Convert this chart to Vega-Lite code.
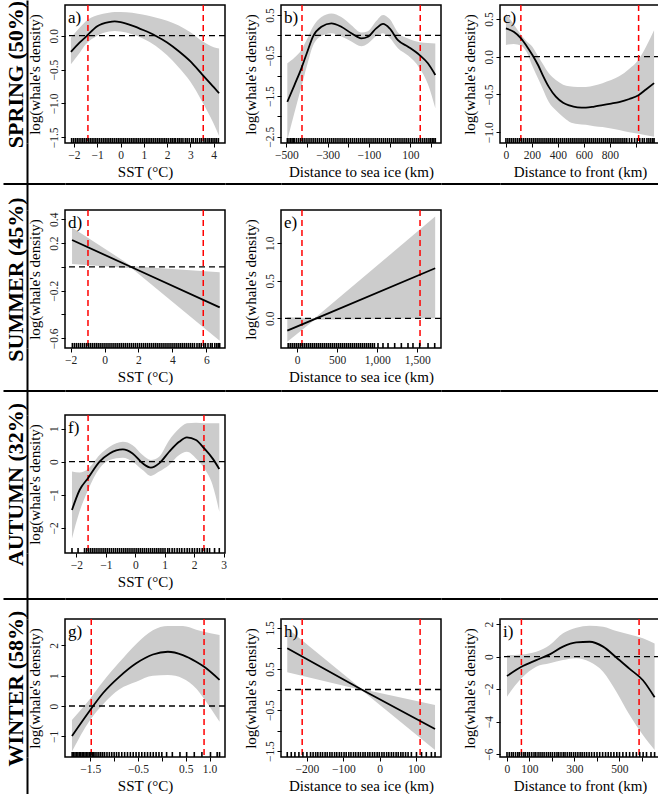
{
"$schema": "https://vega.github.io/schema/vega-lite/v6.json",
"padding": 0,
"bounds": "flush",
"align": "each",
"spacing": {"row": 0, "column": 0},
"columns": 6,
"config": {
  "font": "Liberation Serif",
  "view": {"stroke": "black", "strokeWidth": 1.5},
  "axis": {"grid": false, "domain": false, "ticks": true, "tickColor": "black", "tickSize": 4, "tickWidth": 1, "tickCount": 20, "labelFont": "Liberation Serif", "labelFontSize": 11.5, "labelColor": "#222", "labelFlush": false, "labelOverlap": false, "titleFont": "Liberation Serif", "titleFontSize": 15, "titleFontWeight": "normal", "titleColor": "black"},
  "axisX": {"labelPadding": 2, "titlePadding": 4, "labelOverlap": false},
  "axisY": {"labelAngle": 270, "labelAlign": "center", "labelBaseline": "alphabetic", "labelPadding": 4, "titlePadding": 9, "titleBaseline": "alphabetic", "titleAngle": 270, "labelOverlap": false}
},
"datasets": {
  "fit_a": [
    {"x":-2.13,"y":-0.24,"lo":-0.42,"hi":-0.03},{"x":-1.75,"y":-0.10,"lo":-0.25,"hi":0.12},{"x":-1.5,"y":-0.02,"lo":-0.13,"hi":0.21},{"x":-1.0,"y":0.14,"lo":0.0,"hi":0.3},{"x":-0.5,"y":0.2,"lo":0.06,"hi":0.34},{"x":-0.25,"y":0.21,"lo":0.07,"hi":0.35},{"x":0.0,"y":0.2,"lo":0.06,"hi":0.35},{"x":0.5,"y":0.15,"lo":0.02,"hi":0.34},{"x":1.0,"y":0.08,"lo":-0.05,"hi":0.31},{"x":1.5,"y":0.0,"lo":-0.15,"hi":0.27},{"x":2.0,"y":-0.1,"lo":-0.29,"hi":0.22},{"x":2.5,"y":-0.23,"lo":-0.47,"hi":0.15},{"x":3.0,"y":-0.38,"lo":-0.68,"hi":0.05},{"x":3.5,"y":-0.57,"lo":-0.97,"hi":-0.08},{"x":4.0,"y":-0.76,"lo":-1.3,"hi":-0.17},{"x":4.23,"y":-0.85,"lo":-1.48,"hi":-0.19}
  ],
  "fit_b": [
    {"x":-495,"y":-1.64,"lo":-2.58,"hi":-0.69},{"x":-460,"y":-1.22,"lo":-1.9,"hi":-0.55},{"x":-427,"y":-0.815,"lo":-1.27,"hi":-0.36},{"x":-400,"y":-0.43,"lo":-0.75,"hi":-0.1},{"x":-371,"y":-0.03,"lo":-0.26,"hi":0.21},{"x":-330,"y":0.21,"lo":-0.02,"hi":0.45},{"x":-282,"y":0.295,"lo":0.05,"hi":0.54},{"x":-234,"y":0.21,"lo":-0.03,"hi":0.45},{"x":-185,"y":0.05,"lo":-0.15,"hi":0.25},{"x":-137,"y":-0.075,"lo":-0.27,"hi":0.07},{"x":-105,"y":-0.035,"lo":-0.2,"hi":0.1},{"x":-65,"y":0.17,"lo":-0.02,"hi":0.35},{"x":-32,"y":0.28,"lo":0.05,"hi":0.5},{"x":0,"y":0.17,"lo":-0.06,"hi":0.4},{"x":40,"y":-0.12,"lo":-0.32,"hi":0.07},{"x":89,"y":-0.28,"lo":-0.5,"hi":-0.08},{"x":145,"y":-0.49,"lo":-0.81,"hi":-0.17},{"x":185,"y":-0.69,"lo":-1.2,"hi":-0.19},{"x":221,"y":-0.98,"lo":-1.8,"hi":-0.2}
  ],
  "fit_c": [
    {"x":0,"y":0.375,"lo":0.155,"hi":0.574},{"x":60,"y":0.33,"lo":0.17,"hi":0.43},{"x":116,"y":0.243,"lo":0.15,"hi":0.29},{"x":160,"y":0.14,"lo":0.06,"hi":0.2},{"x":205,"y":0.02,"lo":-0.13,"hi":0.13},{"x":250,"y":-0.12,"lo":-0.3,"hi":0.0},{"x":282,"y":-0.24,"lo":-0.42,"hi":-0.09},{"x":330,"y":-0.4,"lo":-0.6,"hi":-0.22},{"x":384,"y":-0.53,"lo":-0.71,"hi":-0.31},{"x":440,"y":-0.61,"lo":-0.8,"hi":-0.37},{"x":487,"y":-0.645,"lo":-0.86,"hi":-0.39},{"x":550,"y":-0.67,"lo":-0.89,"hi":-0.4},{"x":615,"y":-0.675,"lo":-0.9,"hi":-0.4},{"x":680,"y":-0.66,"lo":-0.92,"hi":-0.38},{"x":743,"y":-0.64,"lo":-0.93,"hi":-0.35},{"x":810,"y":-0.62,"lo":-0.95,"hi":-0.31},{"x":871,"y":-0.6,"lo":-0.97,"hi":-0.26},{"x":950,"y":-0.56,"lo":-1.0,"hi":-0.16},{"x":1020,"y":-0.51,"lo":-1.02,"hi":-0.04},{"x":1080,"y":-0.43,"lo":-1.04,"hi":0.14},{"x":1140,"y":-0.35,"lo":-1.06,"hi":0.35}
  ],
  "fit_d": [
    {"x":-1.92,"y":0.226,"lo":0.025,"hi":0.33},{"x":1.6,"y":-0.003,"lo":-0.012,"hi":0.006},{"x":6.79,"y":-0.34,"lo":-0.62,"hi":-0.045}
  ],
  "fit_e": [
    {"x":-121,"y":-0.164,"lo":-0.311,"hi":0.013},{"x":220,"y":-0.01,"lo":-0.02,"hi":0.0},{"x":1723,"y":0.667,"lo":0.0,"hi":1.356}
  ],
  "fit_f": [
    {"x":-2.146,"y":-1.46,"lo":-2.32,"hi":-0.3},{"x":-1.887,"y":-0.856,"lo":-1.5,"hi":-0.33},{"x":-1.604,"y":-0.5,"lo":-0.86,"hi":-0.22},{"x":-1.21,"y":0.0,"lo":-0.2,"hi":0.2},{"x":-0.87,"y":0.25,"lo":0.05,"hi":0.45},{"x":-0.42,"y":0.37,"lo":0.12,"hi":0.6},{"x":-0.09,"y":0.25,"lo":0.0,"hi":0.5},{"x":0.25,"y":-0.05,"lo":-0.25,"hi":0.2},{"x":0.53,"y":-0.18,"lo":-0.43,"hi":0.05},{"x":0.81,"y":-0.05,"lo":-0.3,"hi":0.15},{"x":1.15,"y":0.3,"lo":-0.1,"hi":0.65},{"x":1.49,"y":0.6,"lo":0.2,"hi":1.0},{"x":1.75,"y":0.735,"lo":0.3,"hi":1.16},{"x":2.06,"y":0.655,"lo":0.1,"hi":1.18},{"x":2.34,"y":0.4,"lo":-0.2,"hi":1.16},{"x":2.62,"y":0.1,"lo":-0.7,"hi":1.16},{"x":2.85,"y":-0.22,"lo":-1.51,"hi":1.16}
  ],
  "fit_g": [
    {"x":-1.884,"y":-0.99,"lo":-1.5,"hi":-0.46},{"x":-1.5,"y":-0.13,"lo":-0.45,"hi":0.25},{"x":-1.236,"y":0.42,"lo":0.05,"hi":0.8},{"x":-0.887,"y":0.97,"lo":0.55,"hi":1.45},{"x":-0.537,"y":1.41,"lo":0.8,"hi":2.05},{"x":-0.188,"y":1.7,"lo":1.0,"hi":2.5},{"x":0.127,"y":1.79,"lo":1.02,"hi":2.64},{"x":0.44,"y":1.68,"lo":0.91,"hi":2.64},{"x":0.72,"y":1.46,"lo":0.58,"hi":2.52},{"x":0.88,"y":1.3,"lo":0.25,"hi":2.45},{"x":1.21,"y":0.86,"lo":-0.52,"hi":2.34}
  ],
  "fit_h": [
    {"x":-254,"y":1.003,"lo":0.42,"hi":1.49},{"x":-50,"y":0.0,"lo":-0.01,"hi":0.01},{"x":152,"y":-0.96,"lo":-1.47,"hi":-0.376}
  ],
  "fit_i": [
    {"x":0,"y":-1.19,"lo":-2.46,"hi":0.1},{"x":64,"y":-0.62,"lo":-1.33,"hi":0.14},{"x":130,"y":-0.21,"lo":-0.62,"hi":0.31},{"x":190,"y":0.14,"lo":-0.41,"hi":0.72},{"x":249,"y":0.62,"lo":-0.21,"hi":1.44},{"x":308,"y":0.88,"lo":-0.1,"hi":1.78},{"x":367,"y":0.92,"lo":-0.31,"hi":1.91},{"x":427,"y":0.62,"lo":-0.92,"hi":1.85},{"x":486,"y":-0.05,"lo":-2.15,"hi":1.58},{"x":545,"y":-0.75,"lo":-3.59,"hi":1.37},{"x":604,"y":-1.45,"lo":-4.82,"hi":1.13},{"x":656,"y":-2.5,"lo":-5.74,"hi":0.82}
  ],
  "rug_a": [{"x":-2.1},{"x":-2.02},{"x":-1.94},{"x":-1.86},{"x":-1.78},{"x":-1.7},{"x":-1.62},{"x":-1.54},{"x":-1.46},{"x":-1.38},{"x":-1.3},{"x":-1.22},{"x":-1.14},{"x":-1.06},{"x":-0.98},{"x":-0.9},{"x":-0.82},{"x":-0.74},{"x":-0.66},{"x":-0.58},{"x":-0.5},{"x":-0.42},{"x":-0.34},{"x":-0.26},{"x":-0.18},{"x":-0.1},{"x":-0.02},{"x":0.06},{"x":0.14},{"x":0.22},{"x":0.3},{"x":0.38},{"x":0.46},{"x":0.54},{"x":0.62},{"x":0.7},{"x":0.78},{"x":0.86},{"x":0.94},{"x":1.02},{"x":1.1},{"x":1.18},{"x":1.26},{"x":1.34},{"x":1.42},{"x":1.5},{"x":1.58},{"x":1.66},{"x":1.74},{"x":1.82},{"x":1.9},{"x":1.98},{"x":2.06},{"x":2.15},{"x":2.22},{"x":2.3},{"x":2.36},{"x":2.45},{"x":2.52},{"x":2.6},{"x":2.68},{"x":2.78},{"x":2.86},{"x":2.95},{"x":3.05},{"x":3.12},{"x":3.22},{"x":3.3},{"x":3.4},{"x":3.48},{"x":3.58},{"x":3.66},{"x":3.75},{"x":3.82},{"x":3.9},{"x":3.97},{"x":4.05},{"x":4.12},{"x":4.2}],
  "rug_b": [{"x":-495},{"x":-487},{"x":-479},{"x":-472},{"x":-466},{"x":-460},{"x":-450},{"x":-440},{"x":-430},{"x":-420},{"x":-410},{"x":-400},{"x":-390},{"x":-380},{"x":-370},{"x":-360},{"x":-350},{"x":-340},{"x":-330},{"x":-320},{"x":-310},{"x":-300},{"x":-290},{"x":-280},{"x":-270},{"x":-260},{"x":-250},{"x":-240},{"x":-230},{"x":-220},{"x":-210},{"x":-200},{"x":-190},{"x":-180},{"x":-170},{"x":-160},{"x":-150},{"x":-140},{"x":-130},{"x":-120},{"x":-110},{"x":-100},{"x":-90},{"x":-80},{"x":-70},{"x":-60},{"x":-50},{"x":-40},{"x":-30},{"x":-20},{"x":-10},{"x":0},{"x":10},{"x":20},{"x":30},{"x":40},{"x":50},{"x":60},{"x":70},{"x":80},{"x":90},{"x":100},{"x":110},{"x":120},{"x":130},{"x":140},{"x":150},{"x":160},{"x":170},{"x":180},{"x":190},{"x":198},{"x":206},{"x":214},{"x":221}],
  "rug_c": [{"x":0},{"x":15},{"x":30},{"x":45},{"x":60},{"x":75},{"x":90},{"x":105},{"x":120},{"x":135},{"x":150},{"x":165},{"x":180},{"x":195},{"x":210},{"x":225},{"x":240},{"x":255},{"x":270},{"x":285},{"x":300},{"x":315},{"x":330},{"x":345},{"x":360},{"x":375},{"x":390},{"x":405},{"x":420},{"x":435},{"x":450},{"x":465},{"x":480},{"x":495},{"x":510},{"x":525},{"x":540},{"x":555},{"x":570},{"x":585},{"x":600},{"x":615},{"x":630},{"x":645},{"x":660},{"x":675},{"x":690},{"x":705},{"x":720},{"x":735},{"x":750},{"x":765},{"x":780},{"x":795},{"x":810},{"x":825},{"x":840},{"x":855},{"x":870},{"x":885},{"x":900},{"x":915},{"x":930},{"x":950},{"x":968},{"x":990},{"x":1010},{"x":1030},{"x":1050},{"x":1065},{"x":1085},{"x":1100},{"x":1115},{"x":1130},{"x":1140}],
  "rug_d": [{"x":-1.9},{"x":-1.78},{"x":-1.66},{"x":-1.54},{"x":-1.42},{"x":-1.3},{"x":-1.18},{"x":-1.06},{"x":-0.94},{"x":-0.82},{"x":-0.7},{"x":-0.58},{"x":-0.46},{"x":-0.34},{"x":-0.22},{"x":-0.1},{"x":0.02},{"x":0.14},{"x":0.26},{"x":0.38},{"x":0.5},{"x":0.62},{"x":0.74},{"x":0.86},{"x":0.98},{"x":1.1},{"x":1.22},{"x":1.34},{"x":1.46},{"x":1.58},{"x":1.7},{"x":1.82},{"x":1.94},{"x":2.06},{"x":2.18},{"x":2.3},{"x":2.42},{"x":2.54},{"x":2.66},{"x":2.78},{"x":2.9},{"x":3.02},{"x":3.14},{"x":3.26},{"x":3.38},{"x":3.5},{"x":3.62},{"x":3.74},{"x":3.86},{"x":3.98},{"x":4.1},{"x":4.22},{"x":4.34},{"x":4.46},{"x":4.58},{"x":4.7},{"x":4.82},{"x":4.94},{"x":5.06},{"x":5.18},{"x":5.3},{"x":5.45},{"x":5.58},{"x":5.7},{"x":5.85},{"x":5.95},{"x":6.1},{"x":6.25},{"x":6.35},{"x":6.5},{"x":6.62},{"x":6.72},{"x":6.79}],
  "rug_e": [{"x":-110},{"x":-85},{"x":-60},{"x":-35},{"x":-10},{"x":15},{"x":40},{"x":65},{"x":90},{"x":115},{"x":140},{"x":165},{"x":190},{"x":215},{"x":240},{"x":265},{"x":290},{"x":315},{"x":340},{"x":365},{"x":390},{"x":415},{"x":440},{"x":465},{"x":490},{"x":515},{"x":540},{"x":565},{"x":590},{"x":615},{"x":640},{"x":665},{"x":690},{"x":715},{"x":740},{"x":765},{"x":790},{"x":815},{"x":840},{"x":865},{"x":890},{"x":915},{"x":940},{"x":965},{"x":1010},{"x":1072},{"x":1135},{"x":1218},{"x":1301},{"x":1384},{"x":1446},{"x":1530},{"x":1634},{"x":1717}],
  "rug_f": [{"x":-2.146},{"x":-1.94},{"x":-1.72},{"x":-1.65},{"x":-1.58},{"x":-1.51},{"x":-1.44},{"x":-1.37},{"x":-1.3},{"x":-1.23},{"x":-1.16},{"x":-1.09},{"x":-1.02},{"x":-0.95},{"x":-0.88},{"x":-0.81},{"x":-0.74},{"x":-0.67},{"x":-0.6},{"x":-0.53},{"x":-0.46},{"x":-0.39},{"x":-0.32},{"x":-0.25},{"x":-0.18},{"x":-0.11},{"x":-0.04},{"x":0.03},{"x":0.1},{"x":0.17},{"x":0.24},{"x":0.31},{"x":0.38},{"x":0.45},{"x":0.52},{"x":0.59},{"x":0.66},{"x":0.73},{"x":0.8},{"x":0.87},{"x":0.94},{"x":1.01},{"x":1.1},{"x":1.16},{"x":1.25},{"x":1.33},{"x":1.42},{"x":1.5},{"x":1.58},{"x":1.67},{"x":1.76},{"x":1.84},{"x":1.93},{"x":2.01},{"x":2.1},{"x":2.18},{"x":2.27},{"x":2.35},{"x":2.44},{"x":2.52},{"x":2.69},{"x":2.85}],
  "rug_g": [{"x":-1.88},{"x":-1.85},{"x":-1.82},{"x":-1.79},{"x":-1.76},{"x":-1.73},{"x":-1.7},{"x":-1.67},{"x":-1.64},{"x":-1.61},{"x":-1.58},{"x":-1.55},{"x":-1.52},{"x":-1.49},{"x":-1.46},{"x":-1.43},{"x":-1.4},{"x":-1.36},{"x":-1.32},{"x":-1.28},{"x":-1.24},{"x":-1.2},{"x":-1.15},{"x":-1.1},{"x":-1.05},{"x":-1.0},{"x":-0.95},{"x":-0.9},{"x":-0.84},{"x":-0.78},{"x":-0.72},{"x":-0.66},{"x":-0.6},{"x":-0.54},{"x":-0.48},{"x":-0.42},{"x":-0.36},{"x":-0.3},{"x":-0.24},{"x":-0.18},{"x":-0.12},{"x":-0.06},{"x":0.0},{"x":0.1},{"x":0.22},{"x":0.38},{"x":0.52},{"x":0.68},{"x":0.84},{"x":1.02},{"x":1.16},{"x":1.21}],
  "rug_h": [{"x":-254},{"x":-243},{"x":-233},{"x":-222},{"x":-211},{"x":-200},{"x":-190},{"x":-183},{"x":-176},{"x":-170},{"x":-163},{"x":-157},{"x":-150},{"x":-144},{"x":-137},{"x":-131},{"x":-124},{"x":-118},{"x":-111},{"x":-105},{"x":-98},{"x":-92},{"x":-85},{"x":-79},{"x":-72},{"x":-66},{"x":-59},{"x":-53},{"x":-46},{"x":-40},{"x":-33},{"x":-27},{"x":-20},{"x":-14},{"x":-7},{"x":-1},{"x":6},{"x":12},{"x":19},{"x":25},{"x":32},{"x":38},{"x":45},{"x":51},{"x":58},{"x":64},{"x":71},{"x":78},{"x":87},{"x":101},{"x":115},{"x":128},{"x":142},{"x":152}],
  "rug_i": [{"x":0},{"x":10},{"x":20},{"x":28},{"x":38},{"x":48},{"x":55},{"x":65},{"x":75},{"x":82},{"x":92},{"x":100},{"x":110},{"x":120},{"x":128},{"x":138},{"x":147},{"x":156},{"x":165},{"x":175},{"x":184},{"x":193},{"x":202},{"x":212},{"x":222},{"x":230},{"x":240},{"x":250},{"x":258},{"x":268},{"x":278},{"x":286},{"x":296},{"x":305},{"x":315},{"x":325},{"x":334},{"x":344},{"x":354},{"x":365},{"x":376},{"x":388},{"x":400},{"x":412},{"x":425},{"x":438},{"x":450},{"x":462},{"x":475},{"x":488},{"x":500},{"x":515},{"x":530},{"x":545},{"x":560},{"x":575},{"x":590},{"x":605},{"x":620},{"x":640},{"x":656}]
},
"concat": [
  {"width":62,"height":5,"view":{"stroke":null},"data":{"values":[{}]},"mark":{"type":"point","opacity":0},"encoding":{"y":{"datum":0,"type":"quantitative","scale":{"domain":[0,1]},"axis":{"orient":"left","offset":-24,"domain":true,"domainColor":"black","domainWidth":2,"ticks":false,"labels":false,"title":null}}}},
  {"width":160,"height":1,"view":{"stroke":null},"data":{"values":[]},"mark":"point"},
  {"width":56,"height":1,"view":{"stroke":null},"data":{"values":[]},"mark":"point"},
  {"width":160,"height":1,"view":{"stroke":null},"data":{"values":[]},"mark":"point"},
  {"width":59,"height":1,"view":{"stroke":null},"data":{"values":[]},"mark":"point"},
  {"width":161,"height":1,"view":{"stroke":null},"data":{"values":[]},"mark":"point"},

  {"width":62,"height":138,"view":{"stroke":null},"data":{"values":[{}]},"mark":{"type":"point","opacity":0},"encoding":{"y":{"datum":0,"type":"quantitative","scale":{"domain":[0,1]},"axis":{"orient":"left","offset":-24,"domain":true,"domainColor":"black","domainWidth":2,"ticks":false,"labels":false,"title":"SPRING (50%)","titleFontSize":22,"titleFontWeight":"bold","titlePadding":5,"titleBaseline":"alphabetic","titleAngle":270,"titleColor":"black"}}}},
  {"width":160,"height":138,"layer":[
    {"data":{"name":"fit_a"},"mark":{"type":"area","color":"#cccccc","interpolate":"monotone"},"encoding":{"x":{"field":"x","type":"quantitative","scale":{"domain":[-2.384,4.484],"nice":false,"zero":false},"axis":{"values":[-2,-1,0,1,2,3,4],"tickCount":20,"format":"d","labelOverlap":false,"title":"SST (°C)"}},"y":{"field":"lo","type":"quantitative","scale":{"domain":[-1.584,0.453],"nice":false,"zero":false},"axis":{"values":[-1.5,-1,-0.5,0],"tickCount":20,"format":".1f","labelOverlap":false,"title":"log(whale's density)"}},"y2":{"field":"hi"}}},
    {"data":{"values":[{}]},"mark":{"type":"rule","color":"black","strokeDash":[6,4],"strokeWidth":1.3},"encoding":{"y":{"datum":0}}},
    {"data":{"values":[{"x":-1.4},{"x":3.55}]},"mark":{"type":"rule","color":"#ff0000","strokeDash":[6,4],"strokeWidth":1.5},"encoding":{"x":{"field":"x","type":"quantitative"}}},
    {"data":{"name":"fit_a"},"mark":{"type":"line","color":"black","strokeWidth":1.8,"interpolate":"monotone"},"encoding":{"x":{"field":"x","type":"quantitative"},"y":{"field":"y","type":"quantitative"}}},
    {"data":{"name":"rug_a"},"mark":{"type":"rule","color":"black","strokeWidth":1.6},"encoding":{"x":{"field":"x","type":"quantitative"},"y":{"datum":-1.584},"y2":{"datum":-1.51}}},
    {"data":{"values":[{"t":"a)"}]},"mark":{"type":"text","align":"left","baseline":"top","dx":3,"dy":5,"fontSize":17,"font":"Liberation Serif","color":"black"},"encoding":{"text":{"field":"t"},"x":{"datum":-2.384},"y":{"datum":0.453}}}
  ]},
  {"width":56,"height":1,"view":{"stroke":null},"data":{"values":[]},"mark":"point"},
  {"width":160,"height":138,"layer":[
    {"data":{"name":"fit_b"},"mark":{"type":"area","color":"#cccccc","interpolate":"monotone"},"encoding":{"x":{"field":"x","type":"quantitative","scale":{"domain":[-525.6,248.5],"nice":false,"zero":false},"axis":{"values":[-500,-400,-300,-200,-100,0,100,200],"tickCount":20,"format":"d","labelOverlap":false,"labelExpr":"datum.value % 200 != 0 ? datum.label : ''","title":"Distance to sea ice (km)"}},"y":{"field":"lo","type":"quantitative","scale":{"domain":[-2.655,0.747],"nice":false,"zero":false},"axis":{"values":[-2.5,-2,-1.5,-1,-0.5,0,0.5],"tickCount":20,"format":".1f","labelOverlap":false,"labelExpr":"abs(round(datum.value*2)) % 2 == 1 ? datum.label : ''","title":"log(whale's density)"}},"y2":{"field":"hi"}}},
    {"data":{"values":[{}]},"mark":{"type":"rule","color":"black","strokeDash":[6,4],"strokeWidth":1.3},"encoding":{"y":{"datum":0}}},
    {"data":{"values":[{"x":-424},{"x":148}]},"mark":{"type":"rule","color":"#ff0000","strokeDash":[6,4],"strokeWidth":1.5},"encoding":{"x":{"field":"x","type":"quantitative"}}},
    {"data":{"name":"fit_b"},"mark":{"type":"line","color":"black","strokeWidth":1.8,"interpolate":"monotone"},"encoding":{"x":{"field":"x","type":"quantitative"},"y":{"field":"y","type":"quantitative"}}},
    {"data":{"name":"rug_b"},"mark":{"type":"rule","color":"black","strokeWidth":1.6},"encoding":{"x":{"field":"x","type":"quantitative"},"y":{"datum":-2.655},"y2":{"datum":-2.532}}},
    {"data":{"values":[{"t":"b)"}]},"mark":{"type":"text","align":"left","baseline":"top","dx":3,"dy":5,"fontSize":17,"font":"Liberation Serif","color":"black"},"encoding":{"text":{"field":"t"},"x":{"datum":-525.6},"y":{"datum":0.747}}}
  ]},
  {"width":59,"height":1,"view":{"stroke":null},"data":{"values":[]},"mark":"point"},
  {"width":160,"height":138,"layer":[
    {"data":{"name":"fit_c"},"mark":{"type":"area","color":"#cccccc","interpolate":"monotone"},"encoding":{"x":{"field":"x","type":"quantitative","scale":{"domain":[-45.6,1185.6],"nice":false,"zero":false},"axis":{"values":[0,200,400,600,800,1000],"tickCount":20,"format":"d","labelOverlap":false,"labelExpr":"datum.value <= 800 ? datum.label : ''","title":"Distance to front (km)"}},"y":{"field":"lo","type":"quantitative","scale":{"domain":[-1.143,0.685],"nice":false,"zero":false},"axis":{"values":[-1,-0.5,0,0.5],"tickCount":20,"format":".1f","labelOverlap":false,"title":"log(whale's density)"}},"y2":{"field":"hi"}}},
    {"data":{"values":[{}]},"mark":{"type":"rule","color":"black","strokeDash":[6,4],"strokeWidth":1.3},"encoding":{"y":{"datum":0}}},
    {"data":{"values":[{"x":115},{"x":1021}]},"mark":{"type":"rule","color":"#ff0000","strokeDash":[6,4],"strokeWidth":1.5},"encoding":{"x":{"field":"x","type":"quantitative"}}},
    {"data":{"name":"fit_c"},"mark":{"type":"line","color":"black","strokeWidth":1.8,"interpolate":"monotone"},"encoding":{"x":{"field":"x","type":"quantitative"},"y":{"field":"y","type":"quantitative"}}},
    {"data":{"name":"rug_c"},"mark":{"type":"rule","color":"black","strokeWidth":1.6},"encoding":{"x":{"field":"x","type":"quantitative"},"y":{"datum":-1.143},"y2":{"datum":-1.077}}},
    {"data":{"values":[{"t":"c)"}]},"mark":{"type":"text","align":"left","baseline":"top","dx":3,"dy":5,"fontSize":17,"font":"Liberation Serif","color":"black"},"encoding":{"text":{"field":"t"},"x":{"datum":-45.6},"y":{"datum":0.685}}}
  ]},

  {"width":62,"height":67,"view":{"stroke":null},"data":{"values":[{}]},"mark":{"type":"point","opacity":0},"encoding":{"y":{"datum":0,"type":"quantitative","scale":{"domain":[0,1]},"axis":{"orient":"left","offset":-24,"domain":true,"domainColor":"black","domainWidth":2,"ticks":false,"labels":false,"title":null}},"x":{"datum":0,"type":"quantitative","scale":{"domain":[0,1]},"axis":{"orient":"bottom","offset":-26.5,"domain":true,"domainColor":"black","domainWidth":2,"ticks":false,"labels":false,"title":null}}}},
  {"width":160,"height":67,"view":{"stroke":null},"data":{"values":[{}]},"mark":{"type":"point","opacity":0},"encoding":{"x":{"datum":0,"type":"quantitative","scale":{"domain":[0,1]},"axis":{"orient":"bottom","offset":-26.5,"domain":true,"domainColor":"black","domainWidth":2,"ticks":false,"labels":false,"title":null}}}},
  {"width":56,"height":67,"view":{"stroke":null},"data":{"values":[{}]},"mark":{"type":"point","opacity":0},"encoding":{"x":{"datum":0,"type":"quantitative","scale":{"domain":[0,1]},"axis":{"orient":"bottom","offset":-26.5,"domain":true,"domainColor":"black","domainWidth":2,"ticks":false,"labels":false,"title":null}}}},
  {"width":160,"height":67,"view":{"stroke":null},"data":{"values":[{}]},"mark":{"type":"point","opacity":0},"encoding":{"x":{"datum":0,"type":"quantitative","scale":{"domain":[0,1]},"axis":{"orient":"bottom","offset":-26.5,"domain":true,"domainColor":"black","domainWidth":2,"ticks":false,"labels":false,"title":null}}}},
  {"width":59,"height":67,"view":{"stroke":null},"data":{"values":[{}]},"mark":{"type":"point","opacity":0},"encoding":{"x":{"datum":0,"type":"quantitative","scale":{"domain":[0,1]},"axis":{"orient":"bottom","offset":-26.5,"domain":true,"domainColor":"black","domainWidth":2,"ticks":false,"labels":false,"title":null}}}},
  {"width":161,"height":67,"view":{"stroke":null},"data":{"values":[{}]},"mark":{"type":"point","opacity":0},"encoding":{"x":{"datum":0,"type":"quantitative","scale":{"domain":[0,1]},"axis":{"orient":"bottom","offset":-26.5,"domain":true,"domainColor":"black","domainWidth":2,"ticks":false,"labels":false,"title":null}}}},

  {"width":62,"height":138,"view":{"stroke":null},"data":{"values":[{}]},"mark":{"type":"point","opacity":0},"encoding":{"y":{"datum":0,"type":"quantitative","scale":{"domain":[0,1]},"axis":{"orient":"left","offset":-24,"domain":true,"domainColor":"black","domainWidth":2,"ticks":false,"labels":false,"title":"SUMMER (45%)","titleFontSize":22,"titleFontWeight":"bold","titlePadding":5,"titleBaseline":"alphabetic","titleAngle":270,"titleColor":"black"}}}},
  {"width":160,"height":138,"layer":[
    {"data":{"name":"fit_d"},"mark":{"type":"area","color":"#cccccc"},"encoding":{"x":{"field":"x","type":"quantitative","scale":{"domain":[-2.336,7.103],"nice":false,"zero":false},"axis":{"values":[-2,0,2,4,6],"tickCount":20,"format":"d","labelOverlap":false,"title":"SST (°C)"}},"y":{"field":"lo","type":"quantitative","scale":{"domain":[-0.6815,0.478],"nice":false,"zero":false},"axis":{"values":[-0.6,-0.4,-0.2,0,0.2,0.4],"tickCount":20,"format":".1f","labelOverlap":false,"labelExpr":"datum.value == 0 || (datum.value < -0.3 && datum.value > -0.5) ? '' : datum.label","title":"log(whale's density)"}},"y2":{"field":"hi"}}},
    {"data":{"values":[{}]},"mark":{"type":"rule","color":"black","strokeDash":[6,4],"strokeWidth":1.3},"encoding":{"y":{"datum":0}}},
    {"data":{"values":[{"x":-0.98},{"x":5.82}]},"mark":{"type":"rule","color":"#ff0000","strokeDash":[6,4],"strokeWidth":1.5},"encoding":{"x":{"field":"x","type":"quantitative"}}},
    {"data":{"name":"fit_d"},"mark":{"type":"line","color":"black","strokeWidth":1.8},"encoding":{"x":{"field":"x","type":"quantitative"},"y":{"field":"y","type":"quantitative"}}},
    {"data":{"name":"rug_d"},"mark":{"type":"rule","color":"black","strokeWidth":1.6},"encoding":{"x":{"field":"x","type":"quantitative"},"y":{"datum":-0.6815},"y2":{"datum":-0.639}}},
    {"data":{"values":[{"t":"d)"}]},"mark":{"type":"text","align":"left","baseline":"top","dx":3,"dy":5,"fontSize":17,"font":"Liberation Serif","color":"black"},"encoding":{"text":{"field":"t"},"x":{"datum":-2.336},"y":{"datum":0.478}}}
  ]},
  {"width":56,"height":1,"view":{"stroke":null},"data":{"values":[]},"mark":"point"},
  {"width":160,"height":138,"layer":[
    {"data":{"name":"fit_e"},"mark":{"type":"area","color":"#cccccc"},"encoding":{"x":{"field":"x","type":"quantitative","scale":{"domain":[-199.5,1795.5],"nice":false,"zero":false},"axis":{"values":[0,500,1000,1500],"tickCount":20,"format":",d","labelOverlap":false,"title":"Distance to sea ice (km)"}},"y":{"field":"lo","type":"quantitative","scale":{"domain":[-0.396,1.444],"nice":false,"zero":false},"axis":{"values":[0,0.5,1],"tickCount":20,"format":".1f","labelOverlap":false,"title":"log(whale's density)"}},"y2":{"field":"hi"}}},
    {"data":{"values":[{}]},"mark":{"type":"rule","color":"black","strokeDash":[6,4],"strokeWidth":1.3},"encoding":{"y":{"datum":0}}},
    {"data":{"values":[{"x":62},{"x":1534}]},"mark":{"type":"rule","color":"#ff0000","strokeDash":[6,4],"strokeWidth":1.5},"encoding":{"x":{"field":"x","type":"quantitative"}}},
    {"data":{"name":"fit_e"},"mark":{"type":"line","color":"black","strokeWidth":1.8},"encoding":{"x":{"field":"x","type":"quantitative"},"y":{"field":"y","type":"quantitative"}}},
    {"data":{"name":"rug_e"},"mark":{"type":"rule","color":"black","strokeWidth":1.6},"encoding":{"x":{"field":"x","type":"quantitative"},"y":{"datum":-0.396},"y2":{"datum":-0.329}}},
    {"data":{"values":[{"t":"e)"}]},"mark":{"type":"text","align":"left","baseline":"top","dx":3,"dy":5,"fontSize":17,"font":"Liberation Serif","color":"black"},"encoding":{"text":{"field":"t"},"x":{"datum":-199.5},"y":{"datum":1.444}}}
  ]},
  {"width":59,"height":1,"view":{"stroke":null},"data":{"values":[]},"mark":"point"},
  {"width":160,"height":1,"view":{"stroke":null},"data":{"values":[]},"mark":"point"},

  {"width":62,"height":67,"view":{"stroke":null},"data":{"values":[{}]},"mark":{"type":"point","opacity":0},"encoding":{"y":{"datum":0,"type":"quantitative","scale":{"domain":[0,1]},"axis":{"orient":"left","offset":-24,"domain":true,"domainColor":"black","domainWidth":2,"ticks":false,"labels":false,"title":null}},"x":{"datum":0,"type":"quantitative","scale":{"domain":[0,1]},"axis":{"orient":"bottom","offset":-24.5,"domain":true,"domainColor":"black","domainWidth":2,"ticks":false,"labels":false,"title":null}}}},
  {"width":160,"height":67,"view":{"stroke":null},"data":{"values":[{}]},"mark":{"type":"point","opacity":0},"encoding":{"x":{"datum":0,"type":"quantitative","scale":{"domain":[0,1]},"axis":{"orient":"bottom","offset":-24.5,"domain":true,"domainColor":"black","domainWidth":2,"ticks":false,"labels":false,"title":null}}}},
  {"width":56,"height":67,"view":{"stroke":null},"data":{"values":[{}]},"mark":{"type":"point","opacity":0},"encoding":{"x":{"datum":0,"type":"quantitative","scale":{"domain":[0,1]},"axis":{"orient":"bottom","offset":-24.5,"domain":true,"domainColor":"black","domainWidth":2,"ticks":false,"labels":false,"title":null}}}},
  {"width":160,"height":67,"view":{"stroke":null},"data":{"values":[{}]},"mark":{"type":"point","opacity":0},"encoding":{"x":{"datum":0,"type":"quantitative","scale":{"domain":[0,1]},"axis":{"orient":"bottom","offset":-24.5,"domain":true,"domainColor":"black","domainWidth":2,"ticks":false,"labels":false,"title":null}}}},
  {"width":59,"height":67,"view":{"stroke":null},"data":{"values":[{}]},"mark":{"type":"point","opacity":0},"encoding":{"x":{"datum":0,"type":"quantitative","scale":{"domain":[0,1]},"axis":{"orient":"bottom","offset":-24.5,"domain":true,"domainColor":"black","domainWidth":2,"ticks":false,"labels":false,"title":null}}}},
  {"width":161,"height":67,"view":{"stroke":null},"data":{"values":[{}]},"mark":{"type":"point","opacity":0},"encoding":{"x":{"datum":0,"type":"quantitative","scale":{"domain":[0,1]},"axis":{"orient":"bottom","offset":-24.5,"domain":true,"domainColor":"black","domainWidth":2,"ticks":false,"labels":false,"title":null}}}},

  {"width":62,"height":138,"view":{"stroke":null},"data":{"values":[{}]},"mark":{"type":"point","opacity":0},"encoding":{"y":{"datum":0,"type":"quantitative","scale":{"domain":[0,1]},"axis":{"orient":"left","offset":-24,"domain":true,"domainColor":"black","domainWidth":2,"ticks":false,"labels":false,"title":"AUTUMN (32%)","titleFontSize":22,"titleFontWeight":"bold","titlePadding":5,"titleBaseline":"alphabetic","titleAngle":270,"titleColor":"black"}}}},
  {"width":160,"height":138,"layer":[
    {"data":{"name":"fit_f"},"mark":{"type":"area","color":"#cccccc","interpolate":"monotone"},"encoding":{"x":{"field":"x","type":"quantitative","scale":{"domain":[-2.383,3.044],"nice":false,"zero":false},"axis":{"values":[-2,-1,0,1,2,3],"tickCount":20,"format":"d","labelOverlap":false,"title":"SST (°C)"}},"y":{"field":"lo","type":"quantitative","scale":{"domain":[-2.76,1.411],"nice":false,"zero":false},"axis":{"values":[-2,-1,0,1],"tickCount":20,"format":"d","labelOverlap":false,"title":"log(whale's density)"}},"y2":{"field":"hi"}}},
    {"data":{"values":[{}]},"mark":{"type":"rule","color":"black","strokeDash":[6,4],"strokeWidth":1.3},"encoding":{"y":{"datum":0}}},
    {"data":{"values":[{"x":-1.6},{"x":2.33}]},"mark":{"type":"rule","color":"#ff0000","strokeDash":[6,4],"strokeWidth":1.5},"encoding":{"x":{"field":"x","type":"quantitative"}}},
    {"data":{"name":"fit_f"},"mark":{"type":"line","color":"black","strokeWidth":1.8,"interpolate":"monotone"},"encoding":{"x":{"field":"x","type":"quantitative"},"y":{"field":"y","type":"quantitative"}}},
    {"data":{"name":"rug_f"},"mark":{"type":"rule","color":"black","strokeWidth":1.6},"encoding":{"x":{"field":"x","type":"quantitative"},"y":{"datum":-2.76},"y2":{"datum":-2.609}}},
    {"data":{"values":[{"t":"f)"}]},"mark":{"type":"text","align":"left","baseline":"top","dx":3,"dy":5,"fontSize":17,"font":"Liberation Serif","color":"black"},"encoding":{"text":{"field":"t"},"x":{"datum":-2.383},"y":{"datum":1.411}}}
  ]},
  {"width":56,"height":1,"view":{"stroke":null},"data":{"values":[]},"mark":"point"},
  {"width":160,"height":1,"view":{"stroke":null},"data":{"values":[]},"mark":"point"},
  {"width":59,"height":1,"view":{"stroke":null},"data":{"values":[]},"mark":"point"},
  {"width":160,"height":1,"view":{"stroke":null},"data":{"values":[]},"mark":"point"},

  {"width":62,"height":66,"view":{"stroke":null},"data":{"values":[{}]},"mark":{"type":"point","opacity":0},"encoding":{"y":{"datum":0,"type":"quantitative","scale":{"domain":[0,1]},"axis":{"orient":"left","offset":-24,"domain":true,"domainColor":"black","domainWidth":2,"ticks":false,"labels":false,"title":null}},"x":{"datum":0,"type":"quantitative","scale":{"domain":[0,1]},"axis":{"orient":"bottom","offset":-20.5,"domain":true,"domainColor":"black","domainWidth":2,"ticks":false,"labels":false,"title":null}}}},
  {"width":160,"height":66,"view":{"stroke":null},"data":{"values":[{}]},"mark":{"type":"point","opacity":0},"encoding":{"x":{"datum":0,"type":"quantitative","scale":{"domain":[0,1]},"axis":{"orient":"bottom","offset":-20.5,"domain":true,"domainColor":"black","domainWidth":2,"ticks":false,"labels":false,"title":null}}}},
  {"width":56,"height":66,"view":{"stroke":null},"data":{"values":[{}]},"mark":{"type":"point","opacity":0},"encoding":{"x":{"datum":0,"type":"quantitative","scale":{"domain":[0,1]},"axis":{"orient":"bottom","offset":-20.5,"domain":true,"domainColor":"black","domainWidth":2,"ticks":false,"labels":false,"title":null}}}},
  {"width":160,"height":66,"view":{"stroke":null},"data":{"values":[{}]},"mark":{"type":"point","opacity":0},"encoding":{"x":{"datum":0,"type":"quantitative","scale":{"domain":[0,1]},"axis":{"orient":"bottom","offset":-20.5,"domain":true,"domainColor":"black","domainWidth":2,"ticks":false,"labels":false,"title":null}}}},
  {"width":59,"height":66,"view":{"stroke":null},"data":{"values":[{}]},"mark":{"type":"point","opacity":0},"encoding":{"x":{"datum":0,"type":"quantitative","scale":{"domain":[0,1]},"axis":{"orient":"bottom","offset":-20.5,"domain":true,"domainColor":"black","domainWidth":2,"ticks":false,"labels":false,"title":null}}}},
  {"width":161,"height":66,"view":{"stroke":null},"data":{"values":[{}]},"mark":{"type":"point","opacity":0},"encoding":{"x":{"datum":0,"type":"quantitative","scale":{"domain":[0,1]},"axis":{"orient":"bottom","offset":-20.5,"domain":true,"domainColor":"black","domainWidth":2,"ticks":false,"labels":false,"title":null}}}},

  {"width":62,"height":138,"view":{"stroke":null},"data":{"values":[{}]},"mark":{"type":"point","opacity":0},"encoding":{"y":{"datum":0,"type":"quantitative","scale":{"domain":[0,1]},"axis":{"orient":"left","offset":-24,"domain":true,"domainColor":"black","domainWidth":2,"ticks":false,"labels":false,"title":"WINTER (58%)","titleFontSize":22,"titleFontWeight":"bold","titlePadding":5,"titleBaseline":"alphabetic","titleAngle":270,"titleColor":"black"}}}},
  {"width":160,"height":138,"layer":[
    {"data":{"name":"fit_g"},"mark":{"type":"area","color":"#cccccc","interpolate":"monotone"},"encoding":{"x":{"field":"x","type":"quantitative","scale":{"domain":[-2.03,1.324],"nice":false,"zero":false},"axis":{"values":[-1.5,-1,-0.5,0,0.5,1],"tickCount":20,"format":".1f","labelOverlap":false,"labelExpr":"datum.value == -1 || datum.value == 0 ? '' : datum.label","title":"SST (°C)"}},"y":{"field":"lo","type":"quantitative","scale":{"domain":[-1.683,2.871],"nice":false,"zero":false},"axis":{"values":[-1,0,1,2],"tickCount":20,"format":"d","labelOverlap":false,"title":"log(whale's density)"}},"y2":{"field":"hi"}}},
    {"data":{"values":[{}]},"mark":{"type":"rule","color":"black","strokeDash":[6,4],"strokeWidth":1.3},"encoding":{"y":{"datum":0}}},
    {"data":{"values":[{"x":-1.48},{"x":0.885}]},"mark":{"type":"rule","color":"#ff0000","strokeDash":[6,4],"strokeWidth":1.5},"encoding":{"x":{"field":"x","type":"quantitative"}}},
    {"data":{"name":"fit_g"},"mark":{"type":"line","color":"black","strokeWidth":1.8,"interpolate":"monotone"},"encoding":{"x":{"field":"x","type":"quantitative"},"y":{"field":"y","type":"quantitative"}}},
    {"data":{"name":"rug_g"},"mark":{"type":"rule","color":"black","strokeWidth":1.6},"encoding":{"x":{"field":"x","type":"quantitative"},"y":{"datum":-1.683},"y2":{"datum":-1.518}}},
    {"data":{"values":[{"t":"g)"}]},"mark":{"type":"text","align":"left","baseline":"top","dx":3,"dy":5,"fontSize":17,"font":"Liberation Serif","color":"black"},"encoding":{"text":{"field":"t"},"x":{"datum":-2.03},"y":{"datum":2.871}}}
  ]},
  {"width":56,"height":1,"view":{"stroke":null},"data":{"values":[]},"mark":"point"},
  {"width":160,"height":138,"layer":[
    {"data":{"name":"fit_h"},"mark":{"type":"area","color":"#cccccc"},"encoding":{"x":{"field":"x","type":"quantitative","scale":{"domain":[-271.2,168.4],"nice":false,"zero":false},"axis":{"values":[-200,-100,0,100],"tickCount":20,"format":"d","labelOverlap":false,"title":"Distance to sea ice (km)"}},"y":{"field":"lo","type":"quantitative","scale":{"domain":[-1.642,1.715],"nice":false,"zero":false},"axis":{"values":[-1.5,-1,-0.5,0,0.5,1,1.5],"tickCount":20,"format":".1f","labelOverlap":false,"labelExpr":"abs(round(datum.value*2)) % 2 == 1 ? datum.label : ''","title":"log(whale's density)"}},"y2":{"field":"hi"}}},
    {"data":{"values":[{}]},"mark":{"type":"rule","color":"black","strokeDash":[6,4],"strokeWidth":1.3},"encoding":{"y":{"datum":0}}},
    {"data":{"values":[{"x":-213},{"x":111}]},"mark":{"type":"rule","color":"#ff0000","strokeDash":[6,4],"strokeWidth":1.5},"encoding":{"x":{"field":"x","type":"quantitative"}}},
    {"data":{"name":"fit_h"},"mark":{"type":"line","color":"black","strokeWidth":1.8},"encoding":{"x":{"field":"x","type":"quantitative"},"y":{"field":"y","type":"quantitative"}}},
    {"data":{"name":"rug_h"},"mark":{"type":"rule","color":"black","strokeWidth":1.6},"encoding":{"x":{"field":"x","type":"quantitative"},"y":{"datum":-1.642},"y2":{"datum":-1.52}}},
    {"data":{"values":[{"t":"h)"}]},"mark":{"type":"text","align":"left","baseline":"top","dx":3,"dy":5,"fontSize":17,"font":"Liberation Serif","color":"black"},"encoding":{"text":{"field":"t"},"x":{"datum":-271.2},"y":{"datum":1.715}}}
  ]},
  {"width":59,"height":1,"view":{"stroke":null},"data":{"values":[]},"mark":"point"},
  {"width":160,"height":138,"layer":[
    {"data":{"name":"fit_i"},"mark":{"type":"area","color":"#cccccc","interpolate":"monotone"},"encoding":{"x":{"field":"x","type":"quantitative","scale":{"domain":[-31.1,680],"nice":false,"zero":false},"axis":{"values":[0,100,200,300,400,500,600],"tickCount":20,"format":"d","labelOverlap":false,"labelExpr":"datum.value == 0 || datum.value == 100 || datum.value == 300 || datum.value == 500 ? datum.label : ''","title":"Distance to front (km)"}},"y":{"field":"lo","type":"quantitative","scale":{"domain":[-6.172,2.32],"nice":false,"zero":false},"axis":{"values":[-6,-4,-2,0,2],"tickCount":20,"format":"d","labelOverlap":false,"title":"log(whale's density)"}},"y2":{"field":"hi"}}},
    {"data":{"values":[{}]},"mark":{"type":"rule","color":"black","strokeDash":[6,4],"strokeWidth":1.3},"encoding":{"y":{"datum":0}}},
    {"data":{"values":[{"x":64},{"x":587}]},"mark":{"type":"rule","color":"#ff0000","strokeDash":[6,4],"strokeWidth":1.5},"encoding":{"x":{"field":"x","type":"quantitative"}}},
    {"data":{"name":"fit_i"},"mark":{"type":"line","color":"black","strokeWidth":1.8,"interpolate":"monotone"},"encoding":{"x":{"field":"x","type":"quantitative"},"y":{"field":"y","type":"quantitative"}}},
    {"data":{"name":"rug_i"},"mark":{"type":"rule","color":"black","strokeWidth":1.6},"encoding":{"x":{"field":"x","type":"quantitative"},"y":{"datum":-6.172},"y2":{"datum":-5.864}}},
    {"data":{"values":[{"t":"i)"}]},"mark":{"type":"text","align":"left","baseline":"top","dx":3,"dy":5,"fontSize":17,"font":"Liberation Serif","color":"black"},"encoding":{"text":{"field":"t"},"x":{"datum":-31.1},"y":{"datum":2.32}}}
  ]},

  {"width":62,"height":37,"view":{"stroke":null},"data":{"values":[{}]},"mark":{"type":"point","opacity":0},"encoding":{"y":{"datum":0,"type":"quantitative","scale":{"domain":[0,1]},"axis":{"orient":"left","offset":-24,"domain":true,"domainColor":"black","domainWidth":2,"ticks":false,"labels":false,"title":null}}}},
  {"width":160,"height":1,"view":{"stroke":null},"data":{"values":[]},"mark":"point"},
  {"width":56,"height":1,"view":{"stroke":null},"data":{"values":[]},"mark":"point"},
  {"width":160,"height":1,"view":{"stroke":null},"data":{"values":[]},"mark":"point"},
  {"width":59,"height":1,"view":{"stroke":null},"data":{"values":[]},"mark":"point"},
  {"width":161,"height":1,"view":{"stroke":null},"data":{"values":[]},"mark":"point"}
]
}
